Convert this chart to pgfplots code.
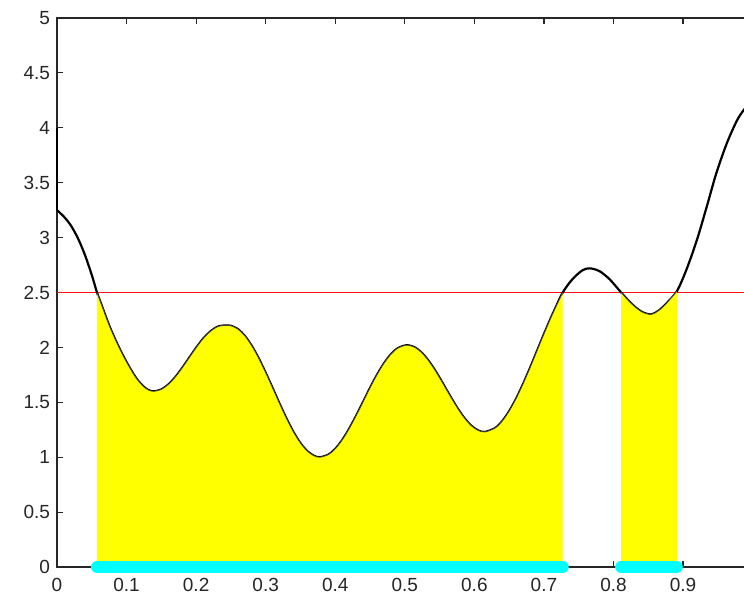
\documentclass[border=0pt]{standalone}
\usepackage{pgfplots}
\pgfplotsset{compat=1.18}
\usepackage{pgfplotstable}
\usepackage{fontspec}
\setmainfont{Liberation Sans}
\definecolor{axgray}{RGB}{38,38,38}
\definecolor{cyn}{RGB}{0,255,255}
\definecolor{yel}{RGB}{255,255,0}
\definecolor{rd}{RGB}{255,20,20}
\pgfplotstableread{
x y
0 3.25
0.01 3.19
0.02 3.11
0.03 2.995
0.04 2.845
0.05 2.66
0.0575 2.50
0.065 2.37
0.075 2.20
0.085 2.055
0.095 1.925
0.105 1.81
0.115 1.71
0.125 1.64
0.132 1.61
0.139 1.60
0.15 1.617
0.16 1.662
0.17 1.729
0.18 1.813
0.19 1.905
0.20 1.996
0.21 2.079
0.22 2.143
0.23 2.186
0.237 2.198
0.243 2.20
0.25 2.197
0.26 2.167
0.27 2.105
0.28 2.014
0.29 1.90
0.30 1.769
0.31 1.629
0.32 1.487
0.33 1.351
0.34 1.229
0.35 1.128
0.36 1.054
0.37 1.011
0.378 1.00
0.39 1.023
0.40 1.076
0.41 1.156
0.42 1.259
0.43 1.377
0.44 1.503
0.45 1.631
0.46 1.750
0.47 1.854
0.48 1.937
0.49 1.993
0.503 2.02
0.515 1.998
0.525 1.947
0.535 1.871
0.545 1.776
0.555 1.669
0.565 1.559
0.575 1.454
0.585 1.362
0.595 1.290
0.605 1.245
0.615 1.23
0.63 1.266
0.64 1.328
0.65 1.419
0.66 1.533
0.67 1.667
0.68 1.813
0.69 1.967
0.70 2.121
0.71 2.269
0.718 2.38
0.727 2.50
0.74 2.614
0.755 2.701
0.766 2.72
0.78 2.694
0.795 2.617
0.811 2.50
0.825 2.403
0.84 2.326
0.854 2.30
0.865 2.335
0.876 2.40
0.891 2.51
0.905 2.71
0.92 2.98
0.934 3.28
0.948 3.59
0.963 3.86
0.977 4.06
0.987 4.16
1.0 4.26
}\curve
\pgfplotstableread{
x y
0.0575 2.50
0.065 2.37
0.075 2.20
0.085 2.055
0.095 1.925
0.105 1.81
0.115 1.71
0.125 1.64
0.132 1.61
0.139 1.60
0.15 1.617
0.16 1.662
0.17 1.729
0.18 1.813
0.19 1.905
0.20 1.996
0.21 2.079
0.22 2.143
0.23 2.186
0.237 2.198
0.243 2.20
0.25 2.197
0.26 2.167
0.27 2.105
0.28 2.014
0.29 1.90
0.30 1.769
0.31 1.629
0.32 1.487
0.33 1.351
0.34 1.229
0.35 1.128
0.36 1.054
0.37 1.011
0.378 1.00
0.39 1.023
0.40 1.076
0.41 1.156
0.42 1.259
0.43 1.377
0.44 1.503
0.45 1.631
0.46 1.750
0.47 1.854
0.48 1.937
0.49 1.993
0.503 2.02
0.515 1.998
0.525 1.947
0.535 1.871
0.545 1.776
0.555 1.669
0.565 1.559
0.575 1.454
0.585 1.362
0.595 1.290
0.605 1.245
0.615 1.23
0.63 1.266
0.64 1.328
0.65 1.419
0.66 1.533
0.67 1.667
0.68 1.813
0.69 1.967
0.70 2.121
0.71 2.269
0.718 2.38
0.727 2.50
}\fillA
\pgfplotstableread{
x y
0.811 2.50
0.825 2.403
0.84 2.326
0.854 2.30
0.865 2.335
0.876 2.40
0.891 2.51
}\fillB
\begin{document}
\begin{tikzpicture}
\begin{axis}[
  scale only axis, width=347.8pt, height=274.5pt,
  xmin=0, xmax=1, ymin=0, ymax=5,
  xtick={0,0.1,0.2,0.3,0.4,0.5,0.6,0.7,0.8,0.9,1},
  xticklabels={0,0.1,0.2,0.3,0.4,0.5,0.6,0.7,0.8,0.9,},
  ytick={0,0.5,1,1.5,2,2.5,3,3.5,4,4.5,5},
  tick align=inside, major tick length=3pt,
  axis line style={axgray, line width=0.6pt},
  tick style={axgray, line width=0.6pt},
  ticklabel style={font=\fontsize{9.5}{11}\selectfont, text=axgray},
  xticklabel style={yshift=-2pt},
  /pgf/number format/assume math mode=true,
  clip=false,
]
\addplot[rd, line width=0.9pt] coordinates {(0,2.5) (1,2.5)};
\addplot[black, line width=1.1pt] coordinates {(0,4) (0,3.25)};
\addplot[black, line width=1.1pt, smooth] table {\curve};
\addplot[fill=yel, draw=none, smooth] table {\fillA} \closedcycle;
\addplot[fill=yel, draw=none, smooth] table {\fillB} \closedcycle;
\addplot[black!75, line width=0.4pt, smooth] table {\fillA};
\addplot[black!75, line width=0.4pt, smooth] table {\fillB};
\addplot[cyn, line width=6pt, line cap=round] coordinates {(0.0575,0) (0.727,0)};
\addplot[cyn, line width=6pt, line cap=round] coordinates {(0.811,0) (0.891,0)};
\end{axis}
\pgfresetboundingbox
\path ([xshift=-28.5pt,yshift=-16.5pt]current axis.south west) rectangle ([xshift=-4.3pt,yshift=9pt]current axis.north east);
\end{tikzpicture}
\end{document}
